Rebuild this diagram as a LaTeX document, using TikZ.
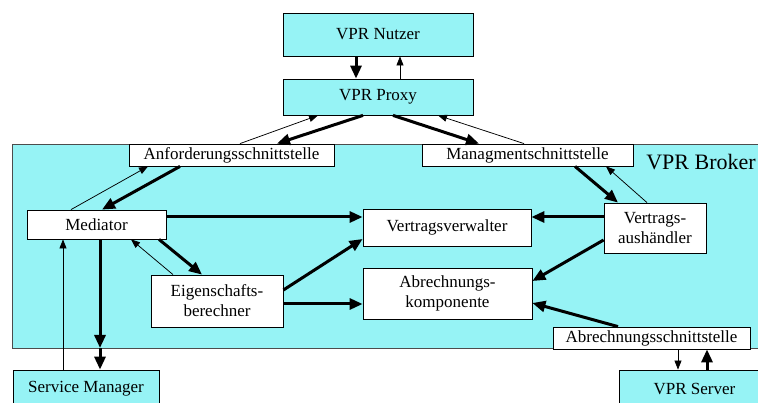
\documentclass[tikz,border=0pt]{standalone}
\usepackage{fontspec}
\setmainfont{Liberation Serif}
\usetikzlibrary{arrows.meta}

\definecolor{vprcyan}{RGB}{150,243,245}

\begin{document}
\begin{tikzpicture}[
  x=1pt, y=-1pt,
  every node/.style={font=\fontsize{17}{20}\selectfont},
  comp/.style={draw, fill=white, line width=0.8pt, inner sep=0pt, align=center},
  extern/.style={comp, fill=vprcyan},
  flow/.style={line width=3pt, -{Triangle[length=13pt,width=11pt]}},
  back/.style={line width=0.75pt, -{Triangle[length=9pt,width=7pt]}}
]
\useasboundingbox (0,0) rectangle (758,403);

% ===== Broker container =====
\draw[fill=vprcyan, draw=black!70, line width=0.8pt] (12.5,144) rectangle (780,348);
\node[font=\fontsize{22}{24}\selectfont] (brokerlbl) at (701,162) {VPR Broker};

% ===== Outside components =====
\node[extern, minimum width=190pt, minimum height=43pt] (nutzer) at (378,34.5) {VPR Nutzer};
\node[extern, minimum width=190pt, minimum height=36pt] (proxy)  at (378,97) {VPR Proxy};
\node[extern, minimum width=146pt, minimum height=38pt] (sm)     at (86,389) {Service Manager};
\node[extern, minimum width=151pt, minimum height=38pt] (srv)    at (694.5,389) {VPR Server};

% ===== Broker interfaces =====
\node[comp, minimum width=205pt, minimum height=22pt] (anf)  at (231.5,155) {Anforderungsschnittstelle};
\node[comp, minimum width=211pt, minimum height=22pt] (mgmt) at (527.5,155) {Managmentschnittstelle};
\node[comp, minimum width=197pt, minimum height=22pt] (abs)  at (651.5,338) {Abrechnungsschnittstelle};

% ===== Broker internals =====
\node[comp, minimum width=139pt, minimum height=29pt] (med) at (96.5,224.5) {Mediator};
\node[comp, minimum width=168pt, minimum height=37pt] (vv)  at (447,227.5) {Vertragsverwalter};
\node[comp, minimum width=102pt, minimum height=50pt] (va)  at (655,228) {Vertrags-\\aushändler};
\node[comp, minimum width=132pt, minimum height=52pt] (eig) at (217,301) {Eigenschafts-\\berechner};
\node[comp, minimum width=169pt, minimum height=51pt] (abk) at (447.5,293.5) {Abrechnungs-\\komponente};

% ===== Top: user and proxy =====
\draw[flow] ([xshift=-22pt]nutzer.south) -- ([xshift=-22pt]proxy.north);
\draw[back] ([xshift=22pt]proxy.north) -- ([xshift=22pt]nutzer.south);

\draw[flow] ([xshift=-15pt]proxy.south) -- ([xshift=45.5pt]anf.north);
\draw[back] ([xshift=8.5pt]anf.north) -- ([xshift=-60pt]proxy.south);
\draw[flow] ([xshift=15pt]proxy.south) -- ([xshift=-48.5pt]mgmt.north);
\draw[back] ([xshift=-3.5pt]mgmt.north) -- ([xshift=60pt]proxy.south);

% ===== Interfaces to internals =====
\draw[flow] ([xshift=-51.5pt]anf.south) -- ([xshift=5.5pt]med.north);
\draw[back] ([xshift=-25.5pt]med.north) -- ([xshift=-83.5pt]anf.south);
\draw[flow] ([xshift=47.5pt]mgmt.south) -- ([xshift=-37pt]va.north);
\draw[back] ([xshift=-8pt]va.north) -- ([xshift=78.5pt]mgmt.south);

% ===== Internal flows =====
\draw[flow] ([yshift=7.5pt]med.east) -- ([yshift=10.5pt]vv.west);
\draw[flow] ([yshift=11pt]va.west) -- ([yshift=10.5pt]vv.east);
\draw[flow] ([xshift=62.5pt]med.south) -- ([xshift=-15pt]eig.north);
\draw[back] ([xshift=-44pt]eig.north) -- ([xshift=34.5pt]med.south);
\draw[flow] ([yshift=11pt]eig.east) -- ([yshift=-11.5pt]vv.west);
\draw[flow] ([yshift=-3pt]eig.east) -- ([yshift=-10.5pt]abk.west);
\draw[flow] ([yshift=-12pt]va.west) -- ([yshift=12.5pt]abk.east);
\draw[flow] ([xshift=-33.5pt]abs.north) -- ([yshift=-9.5pt]abk.east);

% ===== To the outside =====
\coordinate (medout) at (100,348);
\draw[flow] ([xshift=3.5pt]med.south) -- (medout);
\draw[flow] (medout) -- ([xshift=14pt]sm.north);
\draw[back] ([xshift=-23pt]sm.north) -- ([xshift=-33.5pt]med.south);

\draw[back] ([xshift=26.5pt]abs.south) -- ([xshift=-16.5pt]srv.north);
\draw[flow] ([xshift=12.5pt]srv.north) -- ([xshift=55.5pt]abs.south);
\end{tikzpicture}
\end{document}
